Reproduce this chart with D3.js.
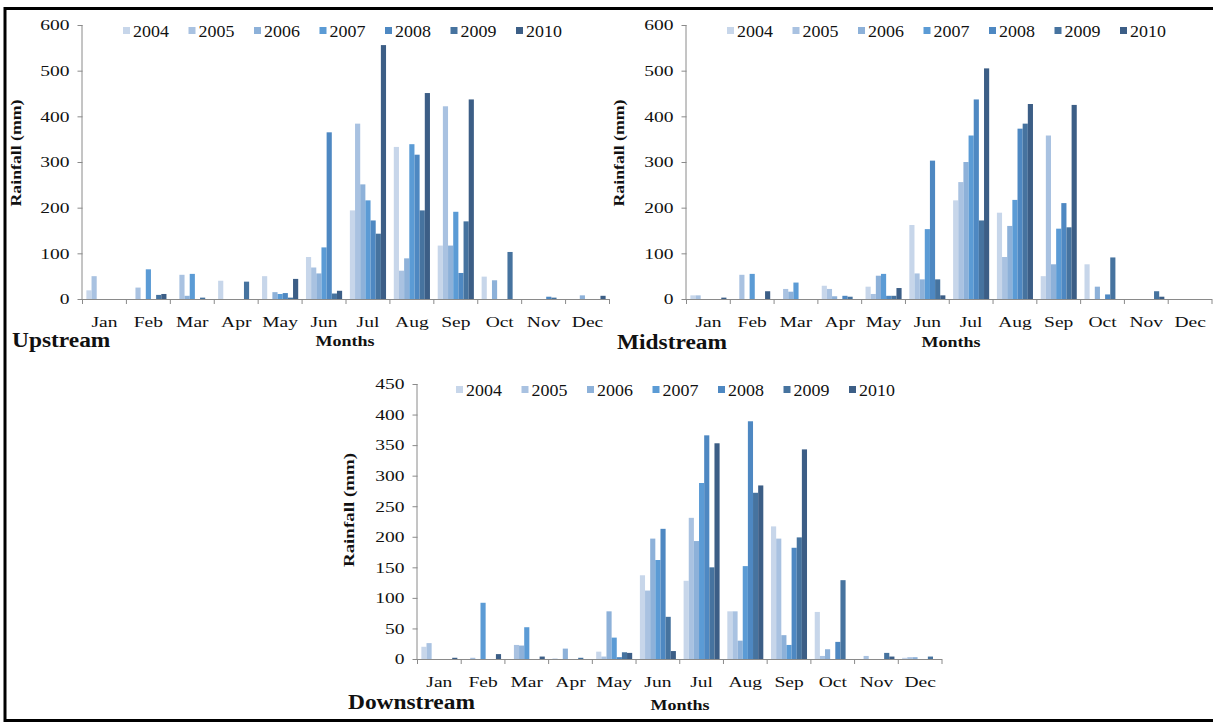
<!DOCTYPE html>
<html><head><meta charset="utf-8">
<script src="https://cdn.jsdelivr.net/npm/d3@7"></script>
<style>body{margin:0;background:#fff}text{font-family:"Liberation Serif","Times New Roman",serif;fill:#111}</style>
</head><body>
<svg id="chart" width="1213" height="723"></svg>
<script>
const months = ["Jan","Feb","Mar","Apr","May","Jun","Jul","Aug","Sep","Oct","Nov","Dec"];
const years = ["2004","2005","2006","2007","2008","2009","2010"];
const yearColors = ["#c7d6ea","#a9c2e1","#8db1d9","#5b9bd5","#4e88c2","#46739f","#3c5e86"];

// values per month: [2004,2005,2006,2007,2008,2009,2010]
const upstream = [
  [19,50,0,0,0,0,0],
  [0,25,0,65,0,9,11],
  [0,53,7,55,0,3,0],
  [40,0,0,0,0,38,0],
  [50,0,15,11,13,3,44],
  [92,69,56,113,365,12,18],
  [194,384,251,216,172,143,556],
  [333,62,89,339,316,194,451],
  [117,422,117,191,57,170,437],
  [49,0,41,0,0,103,0],
  [0,0,0,0,5,3,0],
  [0,0,8,0,0,0,7]
];
const midstream = [
  [8,8,0,0,0,0,3],
  [0,53,0,55,0,0,17],
  [0,22,16,36,0,0,0],
  [29,22,6,0,7,5,0],
  [27,11,51,55,7,7,24],
  [162,56,43,153,303,43,8],
  [216,256,300,358,437,172,505],
  [189,92,160,217,373,384,427],
  [50,358,76,154,210,157,425],
  [76,0,27,0,10,91,0],
  [0,0,0,0,0,17,5],
  [0,0,0,0,0,0,0]
];
const downstream = [
  [20,26,0,0,0,0,2],
  [0,2,0,92,0,0,8],
  [0,23,22,52,0,0,4],
  [1,0,17,0,0,2,0],
  [12,4,78,35,3,11,10],
  [137,112,197,162,213,69,13],
  [128,231,193,288,366,150,353],
  [78,78,30,152,389,272,284],
  [217,197,39,23,182,199,343],
  [77,5,16,0,28,129,0],
  [0,5,0,0,0,10,4],
  [2,3,3,0,0,4,0]
];
const ticksUpper = [0,100,200,300,400,500,600];
const ticksLower = [0,50,100,150,200,250,300,350,400,450];
const panelTitles = ["Upstream","Midstream","Downstream"];
const yTitle = "Rainfall (mm)";
const xTitle = "Months";

const svg = d3.select("#chart");
const axisColor = "#8a8a8a";

// frame
svg.append("rect").attr("x",5).attr("y",8.5).attr("width",1230).attr("height",712)
  .attr("fill","none").attr("stroke","#000").attr("stroke-width",3);

function stretch(sel, sx){
  sel.each(function(){
    const l = this.getComputedTextLength();
    d3.select(this).attr("textLength", l*sx).attr("lengthAdjust","spacingAndGlyphs");
  });
}

function panel(o){
  const g = svg.append("g");
  const x = d3.scaleBand().domain(months).range([o.x0,o.x1]).paddingInner(0).paddingOuter(0);
  const xi = d3.scaleBand().domain(years).range([0,x.bandwidth()]).paddingInner(0).paddingOuter(0.75);
  const y = d3.scaleLinear().domain([0,o.max]).range([o.yb,o.yt]);

  // bars
  months.forEach((m,mi)=>{
    g.selectAll(null).data(o.data[mi]).enter().append("rect")
      .attr("x",(d,k)=>x(m)+xi(years[k]))
      .attr("y",d=>y(d))
      .attr("width",xi.bandwidth())
      .attr("height",d=>y(0)-y(d))
      .attr("fill",(d,k)=>yearColors[k]);
  });

  // y axis
  const ya = g.append("g").attr("transform",`translate(${o.x0},0)`)
    .call(d3.axisLeft(y).tickValues(o.ticks).tickSize(5).tickPadding(8).tickFormat(d3.format("d")));
  ya.select(".domain").attr("stroke",axisColor).attr("d",`M-0.5,${o.yb}V${o.yt}`);
  ya.selectAll(".tick line").attr("stroke",axisColor);
  ya.selectAll("text").style("font-size","15px").attr("fill","#111");
  stretch(ya.selectAll("text"),1.3);

  // x axis
  const xa = g.append("g").attr("transform",`translate(0,${o.yb})`)
    .call(d3.axisBottom(x).tickSize(0).tickPadding(17));
  xa.select(".domain").attr("stroke",axisColor).attr("d",`M${o.x0},0.5H${o.x1}`);
  xa.selectAll("text").style("font-size","15px").attr("fill","#111");
  stretch(xa.selectAll("text"),1.3);
  g.selectAll(null).data(months.concat(["end"])).enter().append("line")
    .attr("x1",(d,i)=> i<12 ? x(d) : o.x1).attr("x2",(d,i)=> i<12 ? x(d) : o.x1)
    .attr("y1",o.yb).attr("y2",o.yb+5).attr("stroke",axisColor);

  // legend
  years.forEach((yr,k)=>{
    const lx = o.legX + k*65.5;
    g.append("rect").attr("x",lx-10).attr("y",o.legY-4).attr("width",7).attr("height",7).attr("fill",yearColors[k]);
    const t = g.append("text").attr("x",lx).attr("y",o.legY+5.5).text(yr).style("font-size","16px");
    stretch(t,1.12);
  });

  // titles
  const yt = g.append("text").attr("transform",`translate(${o.ytx},${o.yty}) rotate(-90)`)
    .attr("text-anchor","middle").style("font-size","14px").style("font-weight","bold").text(yTitle);
  yt.attr("textLength",o.ytLen).attr("lengthAdjust","spacingAndGlyphs");
  const xt = g.append("text").attr("x",o.xtx).attr("y",o.xty).attr("text-anchor","middle")
    .style("font-size","15px").style("font-weight","bold").text(xTitle);
  stretch(xt,1.2);
  const pt = g.append("text").attr("x",o.ptx).attr("y",o.pty)
    .style("font-size","20px").style("font-weight","bold").text(o.title);
  stretch(pt,1.17);
}

panel({data:upstream,title:panelTitles[0],x0:82.5,x1:609.5,yb:299,yt:25,max:600,ticks:ticksUpper,
  legX:133,legY:31,ytx:21,yty:153,ytLen:107,xtx:345,xty:346,ptx:12,pty:347});
panel({data:midstream,title:panelTitles[1],x0:686.5,x1:1212,yb:299,yt:25,max:600,ticks:ticksUpper,
  legX:737,legY:31,ytx:624,yty:153,ytLen:107,xtx:951,xty:347,ptx:617,pty:349});
panel({data:downstream,title:panelTitles[2],x0:417.5,x1:942,yb:659,yt:384,max:450,ticks:ticksLower,
  legX:466,legY:390,ytx:354,yty:510,ytLen:114,xtx:680,xty:710,ptx:348,pty:709});
</script>
</body></html>
